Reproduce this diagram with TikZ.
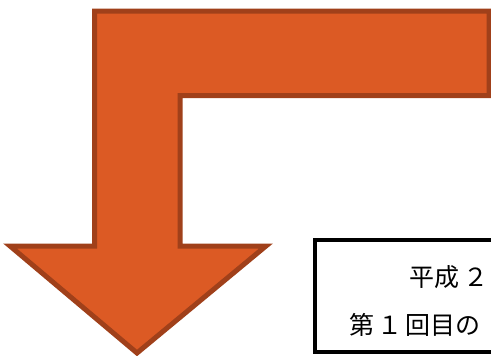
\documentclass[tikz,border=0pt]{standalone}
\usepackage{fontspec}
\newfontfamily\jpfont{Noto Sans CJK JP}
\definecolor{arrowfill}{RGB}{220,90,36}
\definecolor{arrowline}{RGB}{160,64,26}
\begin{document}
\begin{tikzpicture}[x=1pt,y=1pt,
    jptext/.style={anchor=base west,inner sep=0pt,font=\jpfont\fontsize{25}{30}\selectfont}]
                \useasboundingbox (0,0) rectangle (491,-356);
                \clip (0,0) rectangle (491,-356);
                \draw[line width=5pt,fill=arrowfill,draw=arrowline,line join=miter]
                    (94.5,-11) -- (489,-11) -- (489,-95.5) -- (180,-95.5) -- (180,-246)
                    -- (266,-246) -- (137,-353) -- (10,-246) -- (94.5,-246) -- cycle;
                \draw[line width=4pt] (315,-240) -- (700,-240) -- (700,-352) -- (315,-352) -- cycle;
                \node[jptext] (year) at (409,-286) {平成\hspace{4pt}２};
                \node[jptext] (first) at (349,-334) {第\hspace{3pt}１\hspace{3pt}回目の};
            \end{tikzpicture}
\end{document}
